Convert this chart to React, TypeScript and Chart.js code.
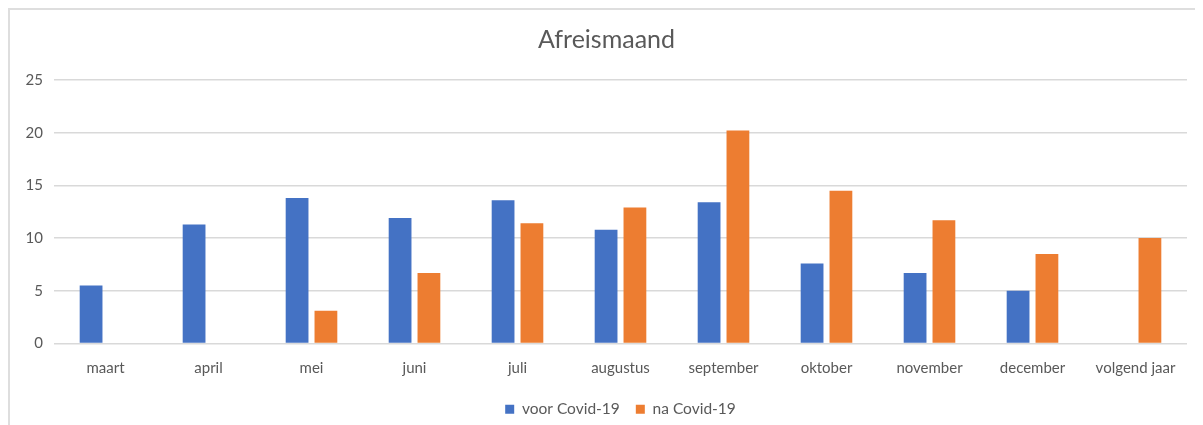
import React, { useEffect, useRef } from "react";
import { Chart, registerables } from "chart.js";

Chart.register(...registerables);

const categories = ["maart", "april", "mei", "juni", "juli", "augustus", "september", "oktober", "november", "december", "volgend jaar"];
const voorCovid = [5.5, 11.3, 13.8, 11.9, 13.6, 10.8, 13.4, 7.6, 6.7, 5.0, null];
const naCovid = [null, null, 3.1, 6.7, 11.4, 12.9, 20.2, 14.5, 11.7, 8.5, 10.0];
const yTicks = [0, 5, 10, 15, 20, 25];
const seriesNames = ["voor Covid-19", "na Covid-19"];
const titleText = "Afreismaand";

const FONT = "Lato, 'Open Sans', sans-serif";
const TEXT = "#595959";

export default function App() {
  const ref = useRef<HTMLCanvasElement | null>(null);
  useEffect(() => {
    if (!ref.current) return;
    const chart = new Chart(ref.current, {
      type: "bar",
      data: {
        labels: categories,
        datasets: [
          { label: seriesNames[0], data: voorCovid, backgroundColor: "#4472C4", categoryPercentage: 0.56, barPercentage: 0.79 },
          { label: seriesNames[1], data: naCovid, backgroundColor: "#ED7D31", categoryPercentage: 0.56, barPercentage: 0.79 },
        ],
      },
      options: {
        animation: false,
        responsive: false,
        maintainAspectRatio: false,
        layout: { padding: { left: 16, right: 16, top: 0, bottom: -2 } },
        plugins: {
          title: {
            display: true,
            text: titleText,
            color: TEXT,
            font: { family: FONT, size: 25, weight: "normal" },
            padding: { top: 15, bottom: 25 },
          },
          legend: {
            position: "bottom",
            fullSize: false,
            labels: {
              color: TEXT,
              font: { family: FONT, size: 15.5 },
              boxWidth: 9,
              boxHeight: 9,
              padding: 16,
            },
          },
          tooltip: { enabled: false },
        },
        scales: {
          x: {
            grid: { display: false },
            border: { display: false },
            ticks: { color: TEXT, font: { family: FONT, size: 15 }, padding: 8, maxRotation: 0 },
          },
          y: {
            min: 0,
            max: 25,
            afterBuildTicks: (s: any) => {
              s.ticks = yTicks.map((v) => ({ value: v }));
            },
            afterFit: (s: any) => {
              s.width = 28;
            },
            grid: { color: "#d9d9d9", lineWidth: 1.5, drawTicks: false },
            border: { display: false },
            ticks: { color: TEXT, font: { family: FONT, size: 15 }, padding: 11 },
          },
        },
      },
    } as any);
    return () => chart.destroy();
  }, []);
  return (
    <div
      style={{
        width: 1195,
        height: 417,
        borderTop: "2px solid #dedede",
        borderLeft: "2px solid #dedede",
        boxSizing: "border-box",
        background: "#fff",
      }}
    >
      <canvas ref={ref} width={1193} height={415} style={{ display: "block" }} />
    </div>
  );
}
